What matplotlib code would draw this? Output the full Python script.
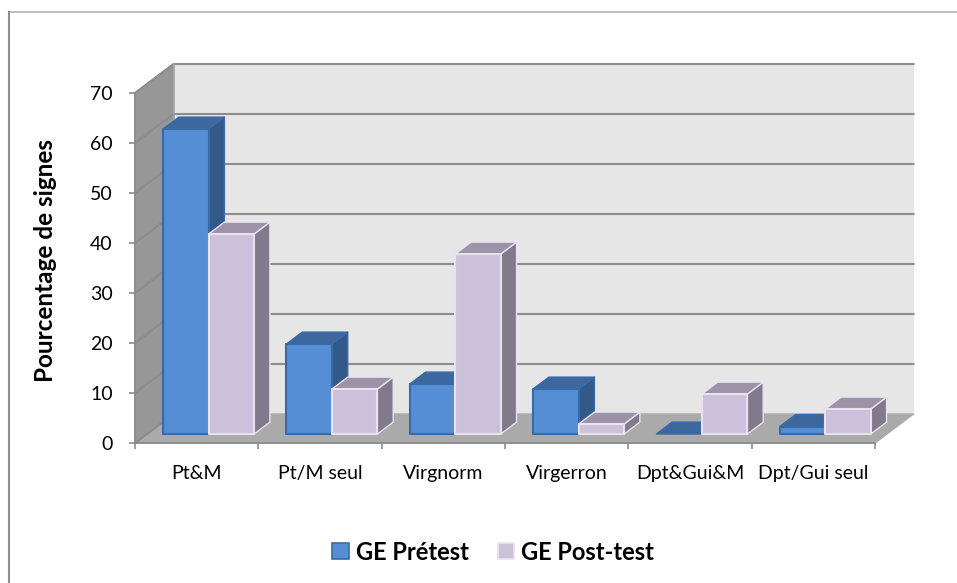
import matplotlib
matplotlib.use('Agg')
import matplotlib.pyplot as plt
from matplotlib.patches import Polygon, Rectangle
from matplotlib.lines import Line2D

categories = ['Pt&M', 'Pt/M seul', 'Virgnorm', 'Virgerron', 'Dpt&Gui&M', 'Dpt/Gui seul']
pretest = [61, 18, 10, 9, 0, 1.5]
posttest = [40, 9, 36, 2, 8, 5]
series_names = ['GE Prétest', 'GE Post-test']
y_ticks = [0, 10, 20, 30, 40, 50, 60, 70]

W, H = 957, 583
plt.rcParams['font.family'] = ['Lato', 'DejaVu Sans']

fig = plt.figure(figsize=(W / 100, H / 100), dpi=100)
# front plane of the 3d box, everything else is offset from it
left, right, bottom, top = 135, 875, 443, 93
ax = fig.add_axes([left / W, 1 - bottom / H, (right - left) / W, (bottom - top) / H])
ax.set_xlim(0, len(categories))
ax.set_ylim(0, 70)
ax.patch.set_visible(False)

# pixel size of one data unit
ux = (right - left) / len(categories)
uy = (bottom - top) / 70
depth_x = 38.5 / ux
depth_y = 29 / uy


def shift(x, y, d):
    # d is depth, 0 front of the box, 1 back wall
    return x + d * depth_x, y + d * depth_y


def face(points, color, edge=None, lw=1.0, z=1):
    ax.add_patch(Polygon(points, closed=True, facecolor=color, edgecolor=edge or color, linewidth=lw,
                         clip_on=False, zorder=z, joinstyle='round'))


n = len(categories)
ymax = y_ticks[-1]
# walls and floor
face([shift(0, 0, 1), shift(n, 0, 1), shift(n, ymax, 1), shift(0, ymax, 1)], '#e6e6e6', z=1)
face([(0, 0), (n, 0), shift(n, 0, 1), shift(0, 0, 1)], '#aaaaaa', z=1)
face([(0, 0), shift(0, 0, 1), shift(0, ymax, 1), (0, ymax)], '#979797', z=1)

for v in y_ticks:
    xs, ys = zip((0, v), shift(0, v, 1), shift(n, v, 1))
    if v == 0:
        xs, ys = xs[:2], ys[:2]
    ax.plot(xs, ys, color='#8c8c8c', lw=1.5, clip_on=False, zorder=2)
ax.plot(*zip(shift(0, 0, 1), shift(0, ymax, 1)), color='#a6a6a6', lw=1.2, clip_on=False, zorder=2)

# bars
bar_w = 45.5 / ux
d0, d1 = 0.31, 0.72
styles = [
    {'front': '#558ed5', 'edge': '#3a6aa5', 'side': '#32598a', 'top': '#3c689f'},
    {'front': '#ccc1da', 'edge': '#e8e2ef', 'side': '#807a8c', 'top': '#9d93a8'},
]


def bar3d(x, v, st, z):
    x2 = x + bar_w
    face([shift(x2, 0, d0), shift(x2, 0, d1), shift(x2, v, d1), shift(x2, v, d0)], st['side'], st['edge'], 1.0, z)
    face([shift(x, v, d0), shift(x2, v, d0), shift(x2, v, d1), shift(x, v, d1)], st['top'], st['edge'], 1.0, z)
    if v > 0:
        face([shift(x, 0, d0), shift(x2, 0, d0), shift(x2, v, d0), shift(x, v, d0)], st['front'], st['edge'], 1.5, z + 0.1)


for i in range(n):
    x0 = i + 0.5 - bar_w
    bar3d(x0, pretest[i], styles[0], 3 + i * 2)
    bar3d(x0 + bar_w, posttest[i], styles[1], 3.5 + i * 2)

# axes
for s in ['top', 'right']:
    ax.spines[s].set_visible(False)
for s in ['left', 'bottom']:
    ax.spines[s].set_color('#8c8c8c')
    ax.spines[s].set_linewidth(1.3)
ax.set_yticks(y_ticks)
ax.tick_params(axis='y', length=4.5, width=1.2, color='#8c8c8c', labelsize=14, pad=11.5)
ax.set_xticks(range(n + 1))
ax.set_xticklabels([])
ax.set_xticks([i + 0.5 for i in range(n)], categories, minor=True)
ax.tick_params(axis='x', which='major', length=4.5, width=1.2, color='#8c8c8c')
ax.tick_params(axis='x', which='minor', length=0, labelsize=14, pad=16)
ax.set_ylabel('Pourcentage de signes', fontsize=17.5, fontweight='bold', labelpad=24, y=0.52)

# legend
handles = [Rectangle((0, 0), 1, 1, facecolor=st['front'], edgecolor=st['edge'], linewidth=1.2) for st in styles]
fig.legend(handles, series_names, loc='center', bbox_to_anchor=(493 / W, 1 - 552 / H), ncol=2, frameon=False,
           handlelength=0.68, handleheight=0.68, handletextpad=0.3, columnspacing=1.23,
           prop={'size': 17, 'weight': 'bold'})

# chart frame, left side is heavier than the top
fig.add_artist(Line2D([9 / W, 1], [1 - 12 / H, 1 - 12 / H], color='#b8b8b8', lw=1.3))
fig.add_artist(Line2D([9 / W, 9 / W], [0, 1 - 12 / H], color='#8f8f8f', lw=1.5))

fig.savefig('out.png', dpi=100)
